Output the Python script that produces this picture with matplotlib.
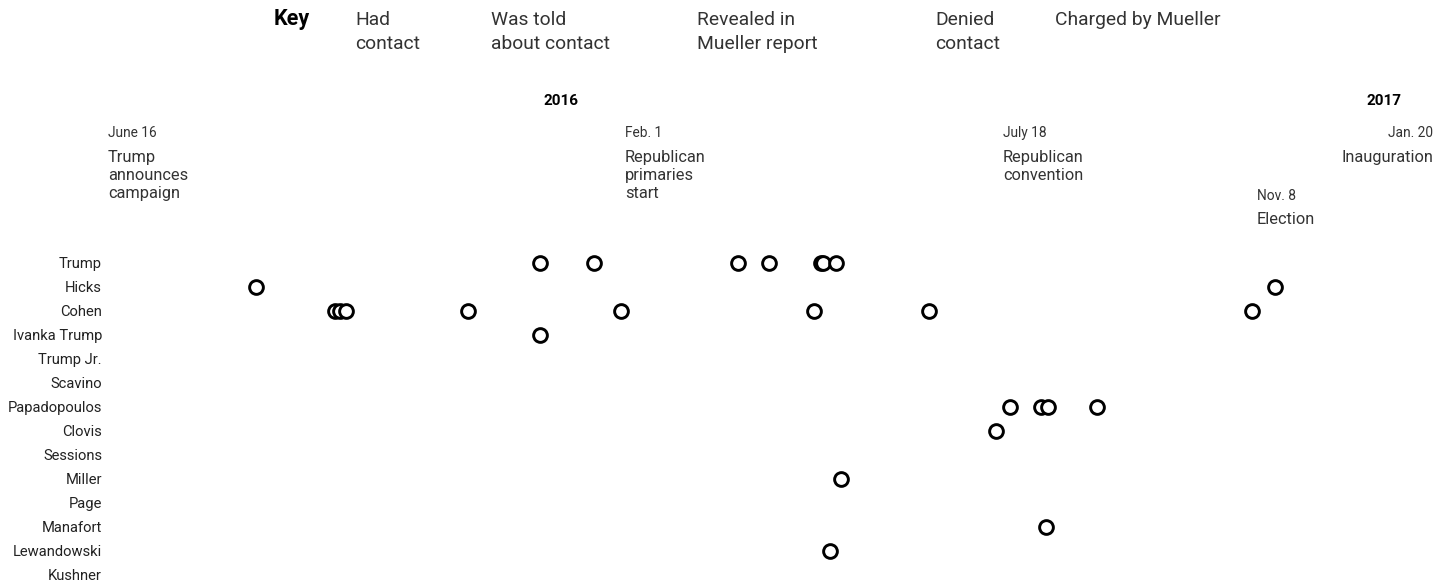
import matplotlib
matplotlib.use("Agg")
import matplotlib.pyplot as plt
import matplotlib.dates as mdates
import matplotlib.transforms as mtransforms
from matplotlib import font_manager
import numpy as np

# ---------------- data ----------------
people = ["Trump", "Hicks", "Cohen", "Ivanka Trump", "Trump Jr.", "Scavino",
          "Papadopoulos", "Clovis", "Sessions", "Miller", "Page", "Manafort",
          "Lewandowski", "Kushner"]

contact_dates = [
    ["2015-12-25", "2016-01-18", "2016-03-22", "2016-04-05", "2016-04-28", "2016-04-29", "2016-05-05"],  # Trump
    ["2015-08-21", "2016-11-16"],                                                                        # Hicks
    ["2015-09-25", "2015-09-27", "2015-09-30", "2015-11-23", "2016-01-30", "2016-04-25", "2016-06-15", "2016-11-06"],  # Cohen
    ["2015-12-25"],                                                                                      # Ivanka Trump
    [], [],                                                                                              # Trump Jr., Scavino
    ["2016-07-21", "2016-08-04", "2016-08-07", "2016-08-29"],                                            # Papadopoulos
    ["2016-07-15"],                                                                                      # Clovis
    [],                                                                                                  # Sessions
    ["2016-05-07"],                                                                                      # Miller
    [],                                                                                                  # Page
    ["2016-08-06"],                                                                                      # Manafort
    ["2016-05-02"],                                                                                      # Lewandowski
    [],                                                                                                  # Kushner
]

event_dates = ["2015-06-16", "2016-02-01", "2016-07-18", "2016-11-08", "2017-01-20"]
event_date_labels = ["June 16", "Feb. 1", "July 18", "Nov. 8", "Jan. 20"]
event_labels = ["Trump\nannounces\ncampaign", "Republican\nprimaries\nstart",
                "Republican\nconvention", "Election", "Inauguration"]
year_labels = ["2016", "2017"]
year_dates = ["2016-01-01", "2017-01-01"]

key_labels = ["Had\ncontact", "Was told\nabout contact", "Revealed in\nMueller report",
              "Denied\ncontact", "Charged by Mueller"]

# ---------------- fonts ----------------
avail = {f.name for f in font_manager.fontManager.ttflist}
fam = "Liberation Sans Narrow" if "Liberation Sans Narrow" in avail else "Roboto"
plt.rcParams["font.family"] = [fam, "DejaVu Sans"]

W, H = 1451, 581
fig = plt.figure(figsize=(W / 100, H / 100), dpi=100)
fig.patch.set_facecolor("white")

def fy(p):  # pixel from top -> figure fraction
    return 1 - p / H

# axes: x from 108px to 1421px, rows at 263 + 24*i
ax_left, ax_right = 108, 1421
ax_top, ax_bot = 239, 581
ax = fig.add_axes([ax_left / W, 1 - ax_bot / H, (ax_right - ax_left) / W, (ax_bot - ax_top) / H])
ax.set_xlim(mdates.datestr2num(event_dates[0]), mdates.datestr2num(event_dates[-1]))
ax.set_ylim(len(people) - 1 + 0.25, -1)
ax.axis("off")
ax.patch.set_alpha(0)

for i, (name, dates) in enumerate(zip(people, contact_dates)):
    if dates:
        x = mdates.datestr2num(dates)
        ax.plot(x, np.full(len(x), i), linestyle="none", marker="o", markersize=9.9,
                markerfacecolor="white", markeredgecolor="black", markeredgewidth=2.1,
                clip_on=False, zorder=3)
    ax.annotate(name, xy=(0, i), xycoords=("axes fraction", "data"),
                xytext=(-6, -1), textcoords="offset pixels",
                ha="right", va="center", fontsize=10.6, color="#222222")

# header labels (x in data, y in figure)
tr = mtransforms.blended_transform_factory(ax.transData, fig.transFigure)
date_y = [133, 133, 133, 196, 133]
label_y = [150, 150, 150, 212, 150]
for d, dl, lab, yd, yl in zip(event_dates, event_date_labels, event_labels, date_y, label_y):
    last = d == event_dates[-1]
    ha = "right" if last else "left"
    off = 12 if last else 0
    xd = mdates.datestr2num(d)
    ax.annotate(dl, xy=(xd, fy(yd)), xycoords=tr, xytext=(off, 0),
                textcoords="offset pixels", ha=ha, va="center", fontsize=9.9,
                color="#333333")
    ax.annotate(lab, xy=(xd, fy(yl)), xycoords=tr, xytext=(off, 0),
                textcoords="offset pixels", ha=ha, va="top", fontsize=11.8,
                color="#333333", linespacing=1.26)

for yl, yd in zip(year_labels, year_dates):
    ax.annotate(yl, xy=(mdates.datestr2num(yd), fy(101)), xycoords=tr, xytext=(6, 0),
                textcoords="offset pixels", ha="center", va="center",
                fontsize=11, fontweight="bold", color="black")

# key
fig.text(274 / W, fy(19), "Key", ha="left", va="center", fontsize=15.5,
         fontweight="bold", color="black")
key_x = [355, 491, 697, 935, 1055]
for kx, kl in zip(key_x, key_labels):
    fig.text(kx / W, fy(11), kl, ha="left", va="top", fontsize=13.9,
             color="#333333", linespacing=1.45)

fig.savefig("out.png", dpi=100, facecolor="white")
